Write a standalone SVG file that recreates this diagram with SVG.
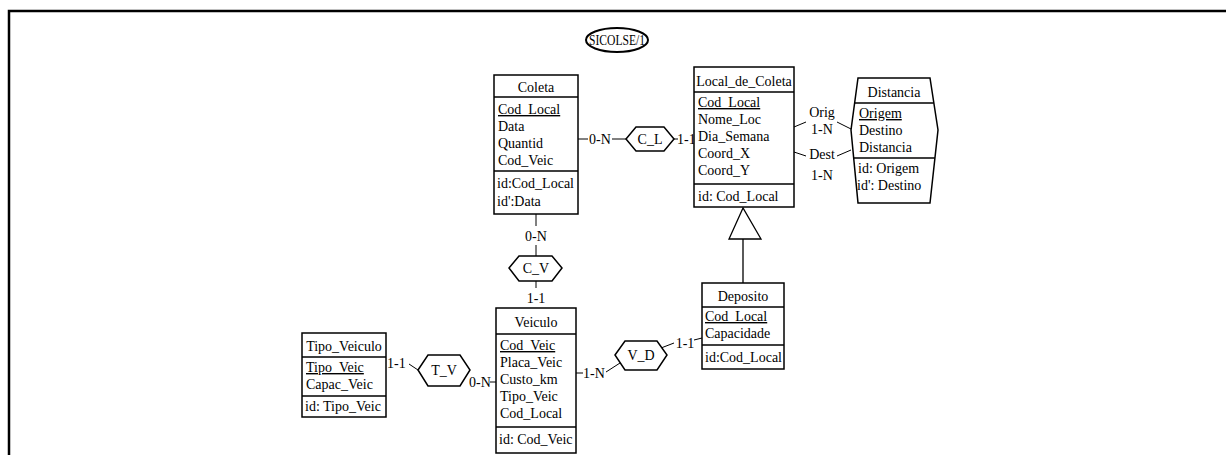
<svg xmlns="http://www.w3.org/2000/svg" width="1226" height="455" viewBox="0 0 1226 455">
<style>
text{font-family:"Liberation Serif","Times New Roman",serif;font-size:14px;fill:#000}
.c{text-anchor:middle}
.u{text-decoration:underline}
.box{fill:#fff;stroke:#000;stroke-width:1.5}
.ln{stroke:#000;stroke-width:1.3;fill:none}
.cn{stroke:#000;stroke-width:1;fill:none}
</style>
<rect x="0" y="0" width="1226" height="455" fill="#fff"/>
<path d="M9,455 V11 H1226" fill="none" stroke="#000" stroke-width="2.5"/>

<g id="schema">
<ellipse cx="617" cy="40" rx="31" ry="12" fill="#fff" stroke="#000" stroke-width="2"/>
<text x="617" y="45" class="c" textLength="56" lengthAdjust="spacingAndGlyphs">SICOLSE/1</text>
</g>

<g id="connectors">
<path class="cn" d="M578,139 H588 M612,139 H626"/>
<text x="600" y="144" class="c">0-N</text>
<path class="cn" d="M674,139 H678"/>
<text x="677" y="144">1-1</text>
<path class="cn" d="M536,214 V226 M536,245 V256 M536,281 V288"/>
<text x="536" y="241" class="c">0-N</text>
<text x="536" y="303" class="c">1-1</text>
<path class="cn" d="M576,373 H583 M606,372 L620,363"/>
<text x="594" y="378" class="c">1-N</text>
<path class="cn" d="M661,348 L674,343 M694,340 L702,338"/>
<text x="685" y="348" class="c">1-1</text>
<path class="cn" d="M409,364 L418,370"/>
<text x="387" y="368">1-1</text>
<path class="cn" d="M490,382 H496"/>
<text x="469" y="387">0-N</text>
<path class="cn" d="M794,127 L806,122 M837,122 L851,129"/>
<text x="822" y="117" class="c">Orig</text>
<text x="822" y="134" class="c">1-N</text>
<path class="cn" d="M794,152 L806,156 M837,156 L851,150"/>
<text x="822" y="159" class="c">Dest</text>
<text x="822" y="180" class="c">1-N</text>
<path class="ln" d="M743,239 V283"/>
<polygon points="743,208 729,239 761,239" fill="#fff" stroke="#000" stroke-width="1.3"/>
</g>

<g id="Coleta">
<rect class="box" x="494" y="75" width="84" height="139"/>
<path class="ln" d="M494,97 H578 M494,171 H578"/>
<text x="536" y="92" class="c">Coleta</text>
<text x="498" y="114" class="u">Cod_Local</text>
<text x="498" y="131">Data</text>
<text x="498" y="148">Quantid</text>
<text x="498" y="165">Cod_Veic</text>
<text x="497" y="188">id:Cod_Local</text>
<text x="497" y="206">id':Data</text>
</g>

<g id="C_L">
<polygon class="box" points="626,139 636,127 664,127 674,139 664,151 636,151"/>
<text x="650" y="144" class="c">C_L</text>
</g>

<g id="Local_de_Coleta">
<rect class="box" x="694" y="67" width="100" height="140"/>
<path class="ln" d="M694,92 H794 M694,184 H794"/>
<text x="744" y="86" class="c">Local_de_Coleta</text>
<text x="698" y="107" class="u">Cod_Local</text>
<text x="698" y="124">Nome_Loc</text>
<text x="698" y="141">Dia_Semana</text>
<text x="698" y="158">Coord_X</text>
<text x="698" y="175">Coord_Y</text>
<text x="698" y="201">id: Cod_Local</text>
</g>

<g id="Distancia">
<polygon class="box" points="858,78 930,78 938,130 930,203 858,203 851,130"/>
<path class="ln" d="M854.6,103 H933.8 M853.7,158 H934.9"/>
<text x="894" y="97" class="c">Distancia</text>
<text x="859" y="118" class="u">Origem</text>
<text x="859" y="135">Destino</text>
<text x="859" y="152">Distancia</text>
<text x="858" y="173">id: Origem</text>
<text x="857" y="190">id': Destino</text>
</g>

<g id="C_V">
<polygon class="box" points="509,268 519,256 552,256 562,268 552,281 519,281"/>
<text x="536" y="273" class="c">C_V</text>
</g>

<g id="Veiculo">
<rect class="box" x="496" y="308" width="80" height="145"/>
<path class="ln" d="M496,334 H576 M496,427 H576"/>
<text x="536" y="327" class="c">Veiculo</text>
<text x="500" y="350" class="u">Cod_Veic</text>
<text x="500" y="367">Placa_Veic</text>
<text x="500" y="384">Custo_km</text>
<text x="500" y="401">Tipo_Veic</text>
<text x="500" y="418">Cod_Local</text>
<text x="499" y="444">id: Cod_Veic</text>
</g>

<g id="V_D">
<polygon class="box" points="615,355 625,341 657,341 667,355 657,370 625,370"/>
<text x="641" y="360" class="c">V_D</text>
</g>

<g id="Deposito">
<rect class="box" x="702" y="283" width="82" height="86"/>
<path class="ln" d="M702,307 H784 M702,345 H784"/>
<text x="743" y="301" class="c">Deposito</text>
<text x="705" y="321" class="u">Cod_Local</text>
<text x="705" y="338">Capacidade</text>
<text x="705" y="362">id:Cod_Local</text>
</g>

<g id="Tipo_Veiculo">
<rect class="box" x="302" y="333" width="84" height="84"/>
<path class="ln" d="M302,357 H386 M302,396 H386"/>
<text x="344" y="351" class="c">Tipo_Veiculo</text>
<text x="306" y="372" class="u">Tipo_Veic</text>
<text x="306" y="389">Capac_Veic</text>
<text x="305" y="411">id: Tipo_Veic</text>
</g>

<g id="T_V">
<polygon class="box" points="418,370 428,355 460,355 470,370 460,386 428,386"/>
<text x="444" y="375" class="c">T_V</text>
</g>
</svg>
